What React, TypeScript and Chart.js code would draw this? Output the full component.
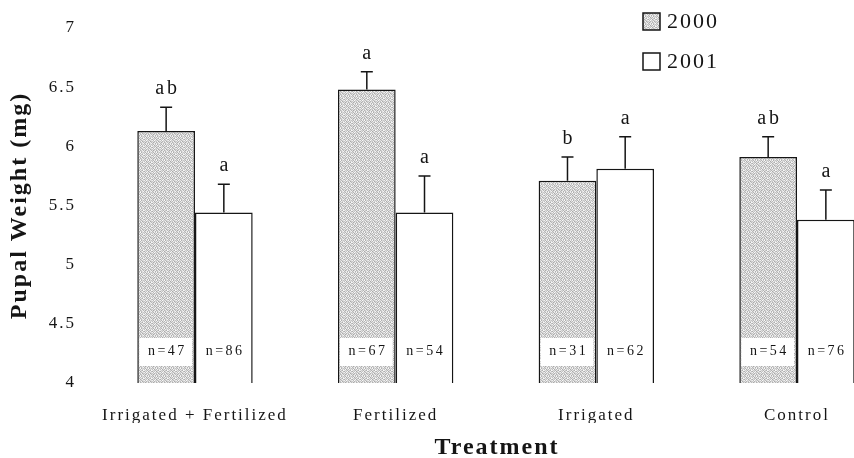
import React, { useEffect, useRef } from "react";
import { Chart, registerables } from "chart.js";

Chart.register(...registerables);

const categories = ["Irrigated + Fertilized", "Fertilized", "Irrigated", "Control"];
const seriesNames = ["2000", "2001"];
const values2000 = [6.13, 6.48, 5.71, 5.91];
const values2001 = [5.44, 5.44, 5.81, 5.38];
const err2000 = [0.2, 0.15, 0.2, 0.17];
const err2001 = [0.24, 0.31, 0.27, 0.25];
const letters2000 = ["ab", "a", "b", "ab"];
const letters2001 = ["a", "a", "a", "a"];
const n2000 = [47, 67, 31, 54];
const n2001 = [86, 54, 62, 76];
const yTicks = [4, 4.5, 5, 5.5, 6, 6.5, 7];

const SERIF = "'Liberation Serif', 'DejaVu Serif', serif";
const INK = "#151515";

// fixed stipple tile (hand-specified shades) for the grey fill
const STIPPLE = [
  215, 180, 235, 200, 250, 175, 220, 195,
  190, 245, 170, 225, 185, 240, 205, 230,
  235, 205, 215, 180, 230, 200, 175, 250,
  175, 225, 195, 245, 170, 215, 240, 190,
  240, 185, 250, 205, 220, 185, 210, 225,
  200, 230, 180, 215, 195, 245, 170, 205,
  225, 170, 210, 240, 180, 205, 235, 185,
  185, 215, 240, 175, 235, 190, 220, 245,
];
const TILE = 8;

function makeStipple(): CanvasPattern | string {
  const c = document.createElement("canvas");
  c.width = TILE;
  c.height = TILE;
  const g = c.getContext("2d");
  if (!g) return "#cccccc";
  STIPPLE.forEach((s, k) => {
    g.fillStyle = `rgb(${s},${s},${s})`;
    g.fillRect(k % TILE, Math.floor(k / TILE), 1, 1);
  });
  return g.createPattern(c, "repeat") || "#cccccc";
}

const spacingPlugin = {
  id: "spacing",
  beforeLayout(chart: any) {
    chart.ctx.letterSpacing = "2px";
  },
  beforeDraw(chart: any) {
    chart.ctx.letterSpacing = "2px";
  },
};

const annotationsPlugin = {
  id: "annotations",
  afterDatasetsDraw(chart: any) {
    const ctx = chart.ctx as CanvasRenderingContext2D;
    const yScale = chart.scales.y;
    const basePx = yScale.getPixelForValue(yScale.min);
    const series = [
      { vals: values2000, errs: err2000, letters: letters2000, ns: n2000, boxed: true },
      { vals: values2001, errs: err2001, letters: letters2001, ns: n2001, boxed: false },
    ];
    series.forEach((s, di) => {
      const meta = chart.getDatasetMeta(di);
      meta.data.forEach((bar: any, i: number) => {
        const x = bar.x as number;
        const top = bar.y as number;
        const w = bar.width as number;
        const yErr = yScale.getPixelForValue(s.vals[i] + s.errs[i]);
        ctx.save();
        ctx.strokeStyle = INK;
        ctx.lineWidth = 1.5;
        ctx.beginPath();
        ctx.moveTo(x, top);
        ctx.lineTo(x, yErr);
        ctx.moveTo(x - 6, yErr);
        ctx.lineTo(x + 6, yErr);
        ctx.stroke();

        ctx.fillStyle = INK;
        ctx.font = `20px ${SERIF}`;
        (ctx as any).letterSpacing = "3px";
        ctx.textAlign = "center";
        ctx.textBaseline = "alphabetic";
        ctx.fillText(s.letters[i], x + 1.5, yErr - 13);

        if (s.boxed) {
          ctx.fillStyle = "#ffffff";
          ctx.fillRect(x - w / 2 + 2, basePx - 45, w - 5, 28);
        }
        ctx.fillStyle = INK;
        ctx.font = `14px ${SERIF}`;
        (ctx as any).letterSpacing = "2.5px";
        ctx.textAlign = "center";
        ctx.textBaseline = "middle";
        ctx.fillText("n=" + s.ns[i], x + 1.25, basePx - 32);
        ctx.restore();
      });
    });
  },
  afterDraw(chart: any) {
    const ctx = chart.ctx as CanvasRenderingContext2D;
    const xScale = chart.scales.x;
    ctx.save();
    ctx.fillStyle = INK;
    ctx.font = `bold 24px ${SERIF}`;
    (ctx as any).letterSpacing = "2px";
    ctx.textAlign = "center";
    ctx.textBaseline = "alphabetic";
    ctx.fillText("Treatment", xScale.getPixelForValue((categories.length - 1) / 2) + 1, 454);

    const fills = [chart.data.datasets[0].backgroundColor, chart.data.datasets[1].backgroundColor];
    seriesNames.forEach((name, k) => {
      const bx = 643;
      const by = 13 + k * 40;
      ctx.fillStyle = fills[k];
      ctx.fillRect(bx, by, 17, 17);
      ctx.strokeStyle = INK;
      ctx.lineWidth = 1.5;
      ctx.strokeRect(bx, by, 17, 17);
      ctx.fillStyle = INK;
      ctx.font = `22px ${SERIF}`;
      (ctx as any).letterSpacing = "2px";
      ctx.textAlign = "left";
      ctx.textBaseline = "middle";
      ctx.fillText(name, bx + 24, by + 9);
    });
    ctx.restore();
  },
};

export default function App() {
  const canvasRef = useRef<HTMLCanvasElement | null>(null);

  useEffect(() => {
    const canvas = canvasRef.current;
    if (!canvas) return;
    const stipple = makeStipple();
    const chart = new Chart(canvas, {
      type: "bar",
      data: {
        datasets: [
          {
            label: seriesNames[0],
            data: values2000.map((v, i) => ({ x: i, y: v })),
            backgroundColor: stipple as any,
            borderColor: INK,
            borderWidth: 1.5,
            borderSkipped: false,
            categoryPercentage: 0.575,
            barPercentage: 1,
          },
          {
            label: seriesNames[1],
            data: values2001.map((v, i) => ({ x: i, y: v })),
            backgroundColor: "#ffffff",
            borderColor: INK,
            borderWidth: 1.5,
            borderSkipped: false,
            categoryPercentage: 0.575,
            barPercentage: 1,
          },
        ],
      },
      options: {
        animation: false,
        responsive: false,
        maintainAspectRatio: false,
        layout: { padding: { top: 28, right: 0, bottom: 35, left: 0 } },
        plugins: {
          legend: { display: false },
          tooltip: { enabled: false },
        },
        scales: {
          x: {
            type: "linear",
            offset: false,
            min: -0.573,
            max: 3.284,
            grid: { display: false, drawTicks: false },
            border: { display: false },
            afterBuildTicks: (scale: any) => {
              scale.ticks = categories.map((_, i) => ({ value: i }));
            },
            afterFit: (scale: any) => {
              scale.height = 40;
              scale.paddingLeft = 0;
              scale.paddingRight = 0;
            },
            ticks: {
              autoSkip: false,
              maxRotation: 0,
              padding: 22,
              color: INK,
              font: { family: SERIF, size: 17 },
              callback: (v: any) => categories[Number(v)] ?? "",
            },
          },
          y: {
            min: 4,
            max: 7,
            grid: { display: false, drawTicks: false },
            border: { display: false },
            afterBuildTicks: (scale: any) => {
              scale.ticks = yTicks.map((v) => ({ value: v }));
            },
            afterFit: (scale: any) => {
              scale.width = 80;
            },
            ticks: {
              padding: 4,
              color: INK,
              font: { family: SERIF, size: 17 },
              callback: (v: any) => String(v),
            },
            title: {
              display: true,
              text: "Pupal Weight (mg)",
              color: INK,
              font: { family: SERIF, size: 24, weight: "bold" },
              padding: { top: 5, bottom: 0 },
            },
          },
        },
      },
      plugins: [spacingPlugin, annotationsPlugin],
    });
    return () => chart.destroy();
  }, []);

  return (
    <div style={{ position: "fixed", left: 0, top: 0, width: 854, height: 458, background: "#fff" }}>
      <canvas ref={canvasRef} width={854} height={458} style={{ width: 854, height: 458, display: "block" }} />
    </div>
  );
}
